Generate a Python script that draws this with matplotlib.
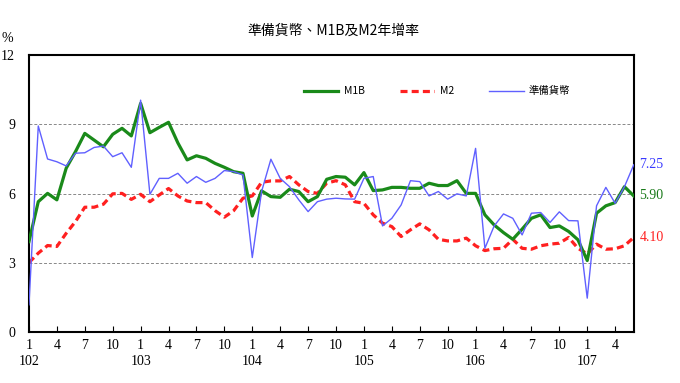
import matplotlib
matplotlib.use("Agg")
import matplotlib.pyplot as plt

# monthly, 102/1 .. 107/6 (ROC years)
years = [102, 103, 104, 105, 106, 107]
n_months = 66

m1b = [3.92, 5.65, 6.01, 5.73, 7.10, 7.82, 8.61, 8.32, 8.03, 8.57, 8.83, 8.50,
       9.91, 8.64, 8.87, 9.09, 8.20, 7.46, 7.64, 7.53, 7.31, 7.14, 6.95, 6.88,
       5.03, 6.12, 5.87, 5.84, 6.19, 6.09, 5.65, 5.87, 6.62, 6.74, 6.71, 6.38,
       6.91, 6.13, 6.16, 6.27, 6.27, 6.23, 6.23, 6.45, 6.35, 6.35, 6.56, 6.01,
       6.01, 5.08, 4.64, 4.31, 4.02, 4.46, 4.93, 5.08, 4.53, 4.60, 4.36, 4.00,
       3.10, 5.15, 5.47, 5.61, 6.30, 5.90]

m2 = [3.01, 3.42, 3.75, 3.71, 4.28, 4.79, 5.41, 5.41, 5.54, 5.99, 6.01, 5.75,
      5.97, 5.65, 5.94, 6.22, 5.90, 5.68, 5.61, 5.61, 5.26, 4.98, 5.26, 5.80,
      5.90, 6.49, 6.55, 6.55, 6.74, 6.38, 6.09, 6.01, 6.45, 6.56, 6.38, 5.65,
      5.58, 5.08, 4.72, 4.57, 4.14, 4.43, 4.69, 4.43, 4.02, 3.95, 3.95, 4.07,
      3.74, 3.53, 3.61, 3.63, 4.02, 3.63, 3.59, 3.74, 3.81, 3.85, 4.10, 3.63,
      3.39, 3.81, 3.59, 3.61, 3.74, 4.10]

reserve = [1.18, 8.93, 7.50, 7.38, 7.20, 7.75, 7.77, 8.00, 8.06, 7.60, 7.77, 7.14,
           10.05, 5.97, 6.66, 6.66, 6.88, 6.45, 6.74, 6.49, 6.66, 7.00, 6.95, 6.81,
           3.23, 6.09, 7.49, 6.66, 6.30, 5.73, 5.22, 5.65, 5.76, 5.80, 5.77, 5.76,
           6.66, 6.74, 4.60, 4.93, 5.51, 6.56, 6.52, 5.90, 6.09, 5.76, 5.99, 5.90,
           7.96, 3.63, 4.60, 5.12, 4.93, 4.21, 5.15, 5.18, 4.75, 5.21, 4.83, 4.82,
           1.47, 5.47, 6.27, 5.58, 6.30, 7.25]

plt.rcParams['font.family'] = ['Liberation Serif', 'Noto Sans CJK TC']

fig = plt.figure(figsize=(6.8, 3.83), dpi=100)
ax = fig.add_axes([0.0426, 0.133, 0.8894, 0.723])

x = list(range(n_months))
ax.plot(x, m1b, color='#1a8a1a', lw=2.3, label='M1B', zorder=3)
ax.plot(x, m2, color='#ff2020', lw=2.3, ls=(0, (2.2, 1.3)), label='M2', zorder=2)
ax.plot(x, reserve, color='#6060ff', lw=1.0, label='準備貨幣', zorder=4)

ax.set_xlim(0, n_months - 1)
ax.set_ylim(0, 12)
ax.set_yticks([0, 3, 6, 9, 12])
for yv in [3, 6, 9]:
    ax.axhline(yv, color='#888888', lw=0.7, ls=(0, (3, 2)), zorder=1)

ticks = [i for i in x if i % 3 == 0]
labels = []
for i in ticks:
    m = i % 12 + 1
    if m == 1:
        labels.append('%d\n%d' % (m, years[i // 12]))
    else:
        labels.append(str(m))
ax.set_xticks(ticks)
ax.set_xticklabels(labels, fontsize=10, va='top', linespacing=1.25)
ax.tick_params(axis='both', direction='in', length=4, labelsize=10)
ax.tick_params(axis='y', length=0, pad=10)
ax.tick_params(axis='x', pad=5)

for s in ax.spines.values():
    s.set_linewidth(1.5)

# end-of-series labels
ax.annotate('7.25', (x[-1], reserve[-1]), xytext=(4, 0), textcoords='offset points',
            color='#3a3aff', fontsize=10, va='center', annotation_clip=False)
ax.annotate('5.90', (x[-1], m1b[-1]), xytext=(4, 0), textcoords='offset points',
            color='#1a7a1a', fontsize=10, va='center', annotation_clip=False)
ax.annotate('4.10', (x[-1], m2[-1]), xytext=(4, 0), textcoords='offset points',
            color='#ff2020', fontsize=10, va='center', annotation_clip=False)

ax.legend(loc='center', bbox_to_anchor=(0.675, 0.87), ncol=3, frameon=False,
          handlelength=3.3, columnspacing=3.4, handletextpad=0.5,
          prop={'family': ['Noto Sans CJK TC'], 'size': 7.5})

fig.text(0.49, 0.92, '準備貨幣、M1B及M2年增率', ha='center', va='center',
         fontsize=10, family=['Noto Sans CJK TC'])
fig.text(0.002, 0.90, '%', ha='left', va='center', fontsize=10)

fig.savefig('out.png', dpi=100)
